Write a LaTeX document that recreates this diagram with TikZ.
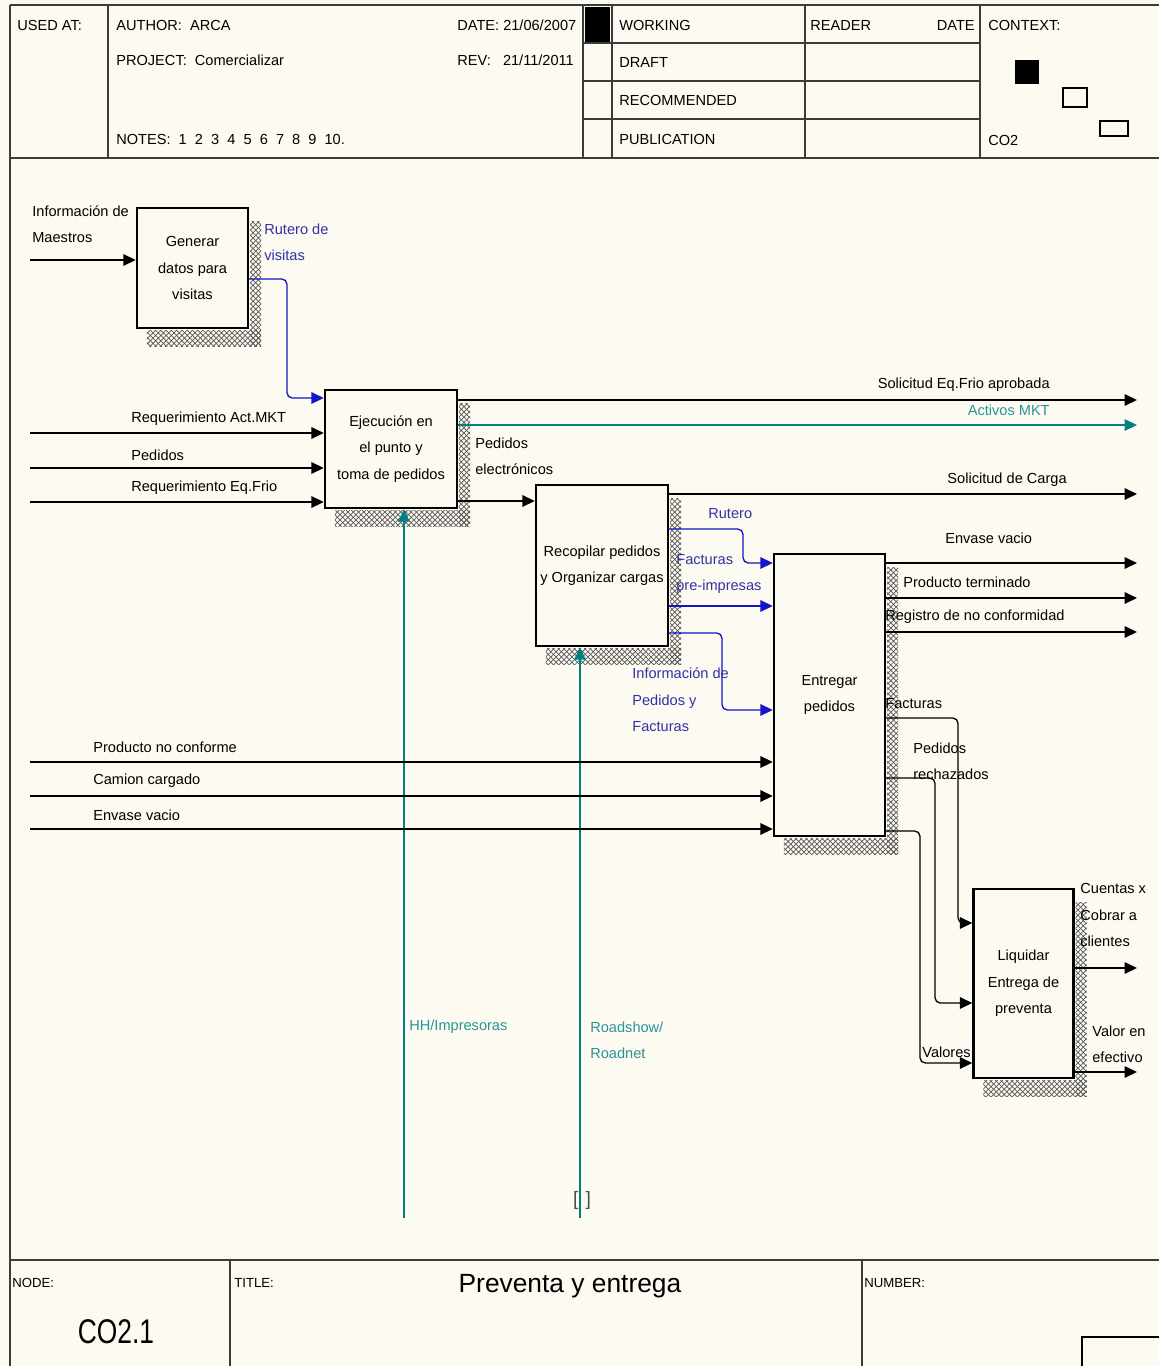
\documentclass[tikz,border=0pt]{standalone}
\usepackage{fontspec}
\setmainfont{Liberation Sans}
\usetikzlibrary{arrows.meta, positioning, calc, patterns}

\definecolor{paper}{RGB}{252,250,241}
\definecolor{flowblue}{RGB}{20,20,200}
\definecolor{txtblue}{RGB}{50,50,165}
\definecolor{flowteal}{RGB}{0,128,128}
\definecolor{txtteal}{RGB}{40,150,150}
\definecolor{rulegray}{RGB}{60,60,60}

\newcommand\boxhatch[1]{%
  \fill[shadowhatch] ($(#1.north east)+(1,15)$) rectangle ($(#1.south east)+(12,17)$);
  \fill[shadowhatch] ($(#1.south west)+(11,1)$) rectangle ($(#1.south east)+(12,17)$);}

\begin{document}
\begin{tikzpicture}[
    x=0.02cm, y=-0.02cm,
    lbl/.style={font=\fontsize{8.3}{15}\selectfont, inner sep=0pt, align=left},
    act/.style={draw, line width=1.4pt, fill=paper, inner sep=0pt, align=center, font=\fontsize{8.3}{15}\selectfont},
    flow/.style={line width=0.75pt, -{Triangle[length=7pt,width=6.5pt]}},
    shadowhatch/.style={pattern=crosshatch, pattern color=gray!70!black},
    framerule/.style={line width=0.8pt, draw=rulegray}
]

% Paper
\fill[paper] (0,0) rectangle (1159,1366);
\useasboundingbox (0,0) rectangle (1159,1366);

% Header frame
\draw[framerule] (10,5) -- (1159,5);
\draw[framerule] (10,5) -- (10,1366);
\draw[framerule] (10,158) -- (1159,158);
\draw[framerule] (108,5) -- (108,158);
\draw[framerule] (583,5) -- (583,158);
\draw[framerule] (612,5) -- (612,158);
\draw[framerule] (805,5) -- (805,158);
\draw[framerule] (980,5) -- (980,158);
\foreach \ry in {43,81,119}
  \draw[framerule] (583,\ry) -- (980,\ry);
\fill (585,7) rectangle (610,42);
\fill (1015,60) rectangle (1039,84);
\draw[line width=0.6pt] (1063,88) rectangle (1087,107);
\draw[line width=0.6pt] (1100,121) rectangle (1128,136);

% Header texts
\node[lbl, anchor=west] (usedat) at (17,25) {USED AT:};
\node[lbl, anchor=west] (author) at (116,25) {AUTHOR:\ \ ARCA};
\node[lbl, anchor=west] (project) at (116,60) {PROJECT:\ \ Comercializar};
\node[lbl, anchor=west] (notes) at (116,139) {NOTES:\ \ 1\ \ 2\ \ 3\ \ 4\ \ 5\ \ 6\ \ 7\ \ 8\ \ 9\ \ 10.};
\node[lbl, anchor=west] (date) at (457,25) {DATE:\ 21/06/2007};
\node[lbl, anchor=west] (rev) at (457,60) {REV:\ \ \ 21/11/2011};
\node[lbl, anchor=west] (working) at (619,25) {WORKING};
\node[lbl, anchor=west] (draft) at (619,62) {DRAFT};
\node[lbl, anchor=west] (recom) at (619,100) {RECOMMENDED};
\node[lbl, anchor=west] (public) at (619,139) {PUBLICATION};
\node[lbl, anchor=west] (reader) at (810,25) {READER};
\node[lbl, anchor=east] (rdate) at (975,25) {DATE};
\node[lbl, anchor=west] (context) at (988,25) {CONTEXT:};
\node[lbl, anchor=west] (ctxnode) at (988,140) {CO2};

% Footer frame
\draw[framerule] (10,1260) -- (1159,1260);
\draw[framerule] (230,1260) -- (230,1366);
\draw[framerule] (862,1260) -- (862,1366);
\draw[line width=0.6pt] (1159,1337) -- (1082,1337) -- (1082,1366);
\node[lbl, anchor=west, font=\fontsize{7.5}{9}\selectfont] (nodelbl) at (12,1283) {NODE:};
\node[lbl, anchor=west, font=\fontsize{7.5}{9}\selectfont] (titlelbl) at (234,1283) {TITLE:};
\node[lbl, anchor=west, font=\fontsize{7.5}{9}\selectfont] (numberlbl) at (864,1283) {NUMBER:};
\node[inner sep=0pt, font=\fontsize{15}{18}\selectfont] (title) at (570,1286) {Preventa y entrega};
\node[inner sep=0pt, font=\fontsize{15}{18}\selectfont] (nodenum) at (116,1332) {\scalebox{1}[1.3]{CO2.1}};

% Activities
\node[act, minimum width=2.22cm, minimum height=2.40cm] (gen) at (192.5,268) {Generar\\datos para\\visitas};
\node[act, minimum width=2.64cm, minimum height=2.36cm] (ejec) at (391,449) {Ejecución en\\el punto y\\toma de pedidos};
\node[act, minimum width=2.64cm, minimum height=3.22cm] (recop) at (602,565.5) {Recopilar pedidos\\y Organizar cargas};
\node[act, minimum width=2.22cm, minimum height=5.64cm] (entr) at (829.5,695) {Entregar\\pedidos};
\node[act, minimum width=2.0cm, minimum height=3.78cm] (liq) at (1023.5,983.5) {Liquidar\\Entrega de\\preventa};

% Shadows
\boxhatch{gen}
\boxhatch{ejec}
\boxhatch{recop}
\boxhatch{entr}
\boxhatch{liq}

% Generar datos para visitas
\coordinate (inMaestros) at (30,260);
\draw[flow] (inMaestros) -- (inMaestros -| gen.west);
\node[lbl, anchor=west] (lMaestros) at (32,224) {Información de\\Maestros};
\draw[flow, draw=flowblue, rounded corners=3pt] (gen.east |- 0,279) -| (287,398) -- (ejec.west |- 0,398);
\node[lbl, anchor=west, text=txtblue] (lRuteroVis) at (264,242) {Rutero de\\visitas};

% Ejecucion en el punto
\coordinate (inActMKT) at (30,433);
\coordinate (inPedidos) at (30,468);
\coordinate (inEqFrio) at (30,502);
\draw[flow] (inActMKT) -- (inActMKT -| ejec.west);
\draw[flow] (inPedidos) -- (inPedidos -| ejec.west);
\draw[flow] (inEqFrio) -- (inEqFrio -| ejec.west);
\node[lbl, anchor=west] (lActMKT) at (131,419) {Requerimiento Act.MKT};
\node[lbl, anchor=west] (lPedidos) at (131,455) {Pedidos};
\node[lbl, anchor=west] (lEqFrio) at (131,488) {Requerimiento Eq.Frio};

\coordinate (outSolFrio) at (1137,400);
\coordinate (outActivos) at (1137,425);
\draw[flow] (ejec.east |- outSolFrio) -- (outSolFrio);
\draw[flow, draw=flowteal] (ejec.east |- outActivos) -- (outActivos);
\node[lbl, anchor=east] (lSolFrio) at (1050,385) {Solicitud Eq.Frio aprobada};
\node[lbl, anchor=east, text=txtteal] (lActivos) at (1050,410) {Activos MKT};

\draw[flow] (ejec.east |- 0,501) -- (recop.west |- 0,501);
\node[lbl, anchor=west] (lPedElec) at (475,456) {Pedidos\\electrónicos};

% Recopilar pedidos
\coordinate (outCarga) at (1137,494);
\draw[flow] (recop.east |- outCarga) -- (outCarga);
\node[lbl, anchor=east] (lCarga) at (1067,480) {Solicitud de Carga};

\draw[flow, draw=flowblue, rounded corners=3pt] (recop.east |- 0,529) -| (743,563) -- (entr.west |- 0,563);
\node[lbl, anchor=west, text=txtblue] (lRutero) at (708,514) {Rutero};
\draw[flow, draw=flowblue] (recop.east |- 0,606) -- (entr.west |- 0,606);
\node[lbl, anchor=west, text=txtblue] (lFactPre) at (676,574) {Facturas\\pre-impresas};
\draw[flow, draw=flowblue, rounded corners=3pt] (recop.east |- 0,633) -| (722,710) -- (entr.west |- 0,710);
\node[lbl, anchor=west, text=txtblue] (lInfoPed) at (632,700) {Información de\\Pedidos y\\Facturas};

% Mechanisms
\coordinate (mecHH) at (404,1218);
\coordinate (mecRoad) at (580,1218);
\draw[flow, draw=flowteal] (mecHH) -- (mecHH |- ejec.south);
\draw[flow, draw=flowteal] (mecRoad) -- (mecRoad |- recop.south);
\node[lbl, anchor=west, text=txtteal] (lHH) at (409,1027) {HH/Impresoras};
\node[lbl, anchor=west, text=txtteal] (lRoad) at (590,1040) {Roadshow/\\Roadnet};
\node[inner sep=0pt, font=\fontsize{11}{11}\selectfont, text=gray!60!black] (tunnel) at (582,1200) {[\hspace{4pt}]};

% Entregar pedidos
\coordinate (inNoConf) at (30,762);
\coordinate (inCamion) at (30,796);
\coordinate (inEnvase) at (30,829);
\draw[flow] (inNoConf) -- (inNoConf -| entr.west);
\draw[flow] (inCamion) -- (inCamion -| entr.west);
\draw[flow] (inEnvase) -- (inEnvase -| entr.west);
\node[lbl, anchor=west] (lNoConf) at (93,747) {Producto no conforme};
\node[lbl, anchor=west] (lCamion) at (93,781) {Camion cargado};
\node[lbl, anchor=west] (lEnvaseIn) at (93,815) {Envase vacio};

\coordinate (outEnvase) at (1137,563);
\coordinate (outProd) at (1137,598);
\coordinate (outRegistro) at (1137,632);
\draw[flow] (entr.east |- outEnvase) -- (outEnvase);
\draw[flow] (entr.east |- outProd) -- (outProd);
\draw[flow] (entr.east |- outRegistro) -- (outRegistro);
\node[lbl, anchor=west] (lEnvaseOut) at (945,538) {Envase vacio};
\node[lbl, anchor=west] (lProd) at (903,582) {Producto terminado};
\node[lbl, anchor=west] (lRegistro) at (885,617) {Registro de no conformidad};

\draw[flow, rounded corners=3pt] (entr.east |- 0,718) -| (958,923) -- (liq.west |- 0,923);
\node[lbl, anchor=west] (lFacturas) at (885,704) {Facturas};
\draw[flow, rounded corners=3pt] (entr.east |- 0,778) -| (935,1003) -- (liq.west |- 0,1003);
\node[lbl, anchor=west] (lRechaz) at (913,761) {Pedidos\\rechazados};
\draw[flow, rounded corners=3pt] (entr.east |- 0,831) -| (920,1063) -- (liq.west |- 0,1063);
\node[lbl, anchor=west] (lValores) at (922,1052) {Valores};

% Liquidar entrega
\coordinate (outCuentas) at (1137,968);
\coordinate (outValor) at (1137,1072);
\draw[flow] (liq.east |- outCuentas) -- (outCuentas);
\draw[flow] (liq.east |- outValor) -- (outValor);
\node[lbl, anchor=west] (lCuentas) at (1080,915) {Cuentas x\\Cobrar a\\clientes};
\node[lbl, anchor=west] (lValor) at (1092,1044) {Valor en\\efectivo};

\end{tikzpicture}
\end{document}
